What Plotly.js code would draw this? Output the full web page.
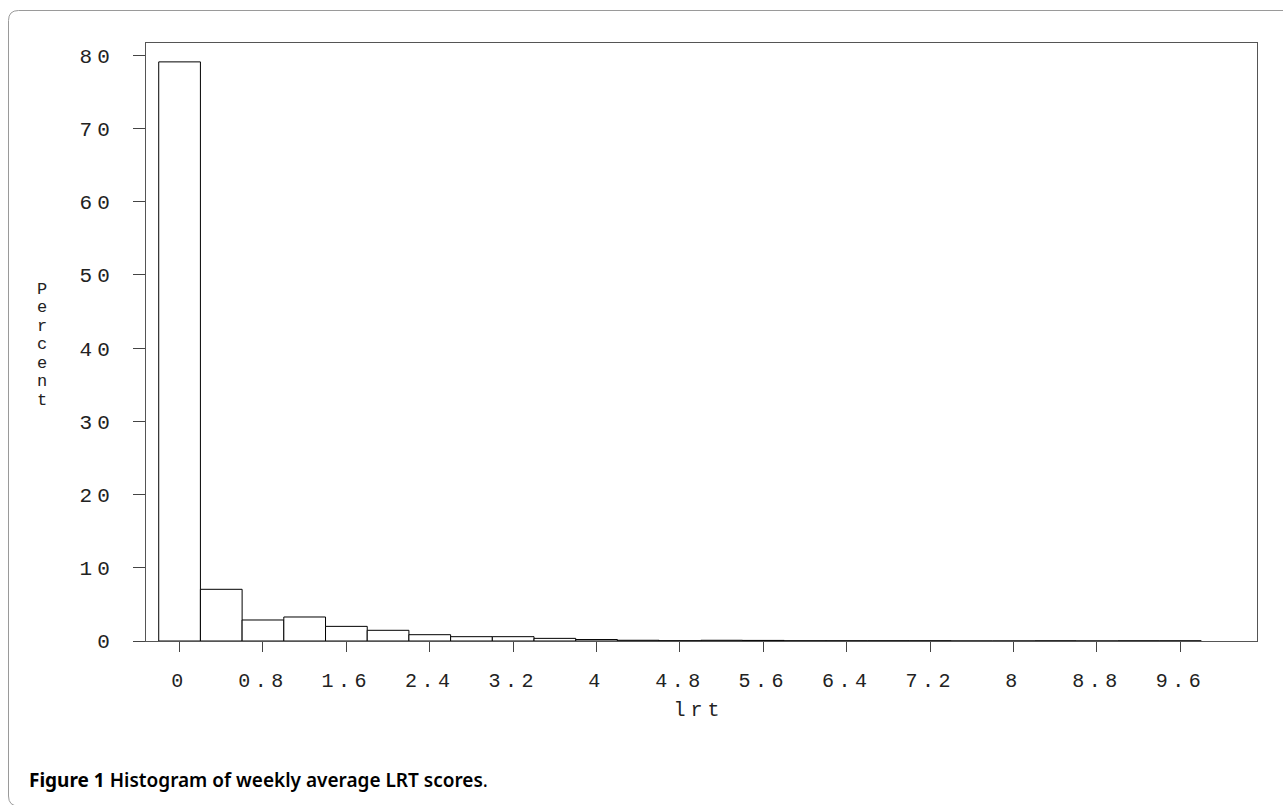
<!DOCTYPE html>
<html>
<head>
<meta charset="utf-8">
<script src="https://cdn.plot.ly/plotly-3.0.1.min.js"></script>
<style>
  html, body { margin: 0; padding: 0; background: #fff; }
  #chart { width: 1283px; height: 805px; }
  .xtick text { letter-spacing: 4.5px; }
  .ytick text { letter-spacing: 5px; }
  .annotation[data-index="0"] text { letter-spacing: 5px; }
</style>
</head>
<body>
<div id="chart"></div>
<script>
// ---- data ----
const binCenters = [0, 0.4, 0.8, 1.2, 1.6, 2.0, 2.4, 2.8, 3.2, 3.6, 4.0, 4.4, 4.8,
                    5.2, 5.6, 6.0, 6.4, 6.8, 7.2, 7.6, 8.0, 8.4, 8.8, 9.2, 9.6];
const percentValues = [79.1, 7.06, 2.87, 3.28, 2.0, 1.46, 0.86, 0.59, 0.59, 0.36, 0.2, 0.1, 0.04,
                       0.1, 0.08, 0.03, 0.03, 0.03, 0.03, 0, 0, 0.02, 0, 0.02, 0.02];
const xTickVals = [0, 0.8, 1.6, 2.4, 3.2, 4, 4.8, 5.6, 6.4, 7.2, 8, 8.8, 9.6];
const xTickText = ["0", "0.8", "1.6", "2.4", "3.2", "4", "4.8", "5.6", "6.4", "7.2", "8", "8.8", "9.6"];
const yTickVals = [0, 10, 20, 30, 40, 50, 60, 70, 80];
const yTickText = ["0", "10", "20", "30", "40", "50", "60", "70", "80"];
const yTitle = "Percent";
const xTitle = "lrt";
const captionBold = "Figure 1";
const captionText = "Histogram of weekly average LRT scores";

// ---- layout geometry ----
const W = 1283, H = 805, L = 146, R = 26, T = 43, B = 164;
const pw = W - L - R, ph = H - T - B;
const px = x => (x - L) / pw;
const py = y => 1 - (y - T) / ph;

const MONO = "Liberation Mono, DejaVu Sans Mono, monospace";
const xFont = { family: MONO, size: 20, color: "#222" };
const yFont = { family: MONO, size: 21, color: "#222" };
const letterFont = { family: MONO, size: 17, color: "#222" };

const trace = {
  type: "bar",
  x: binCenters,
  y: percentValues,
  width: 0.4,
  marker: { color: "#ffffff", line: { color: "#000000", width: 1 } },
  hoverinfo: "x+y"
};

const annotations = [];
annotations.push({
  xref: "paper", yref: "paper", x: px(699), y: py(710),
  xanchor: "center", yanchor: "middle", showarrow: false,
  text: xTitle, font: xFont
});
const letters = yTitle.split("");
letters.forEach((ch, i) => {
  annotations.push({
    xref: "paper", yref: "paper", x: px(42), y: py(289 + i * 18.5),
    xanchor: "center", yanchor: "middle", showarrow: false,
    text: ch, font: letterFont
  });
});
annotations.push({
  xref: "paper", yref: "paper", x: px(27), y: py(780),
  xanchor: "left", yanchor: "middle", showarrow: false,
  text: "<b>" + captionBold + "</b> <span style='font-weight:600'>" + captionText + "</span>.",
  font: { family: "Noto Sans, Open Sans, sans-serif", size: 19, color: "#000" }
});

const framePath =
  "M " + px(18.5) + "," + py(806) +
  " Q " + px(8.5) + "," + py(806) + " " + px(8.5) + "," + py(796) +
  " L " + px(8.5) + "," + py(20.5) +
  " Q " + px(8.5) + "," + py(10.5) + " " + px(18.5) + "," + py(10.5) +
  " L " + px(1300) + "," + py(10.5);

const layout = {
  width: W, height: H,
  margin: { l: L, r: R, t: T, b: B, pad: 0 },
  paper_bgcolor: "#fff", plot_bgcolor: "#fff",
  showlegend: false,
  bargap: 0,
  xaxis: {
    range: [-0.322, 10.335],
    tickmode: "array", tickvals: xTickVals, ticktext: xTickText,
    ticks: "outside", ticklen: 10, tickwidth: 1, tickcolor: "#444",
    ticklabelstandoff: 11,
    showline: true, linecolor: "#555", linewidth: 1, mirror: true,
    showgrid: false, zeroline: false,
    tickfont: xFont, fixedrange: true
  },
  yaxis: {
    range: [0, 81.68],
    tickmode: "array", tickvals: yTickVals, ticktext: yTickText,
    ticks: "outside", ticklen: 12, tickwidth: 1, tickcolor: "#444",
    ticklabelstandoff: 14,
    showline: true, linecolor: "#555", linewidth: 1, mirror: true,
    showgrid: false, zeroline: false,
    tickfont: yFont, fixedrange: true
  },
  annotations: annotations,
  shapes: [{
    type: "path", xref: "paper", yref: "paper", path: framePath,
    line: { color: "#9a9a9a", width: 1 }, layer: "below"
  }]
};

Plotly.newPlot("chart", [trace], layout, { displayModeBar: false, staticPlot: true });
</script>
</body>
</html>
